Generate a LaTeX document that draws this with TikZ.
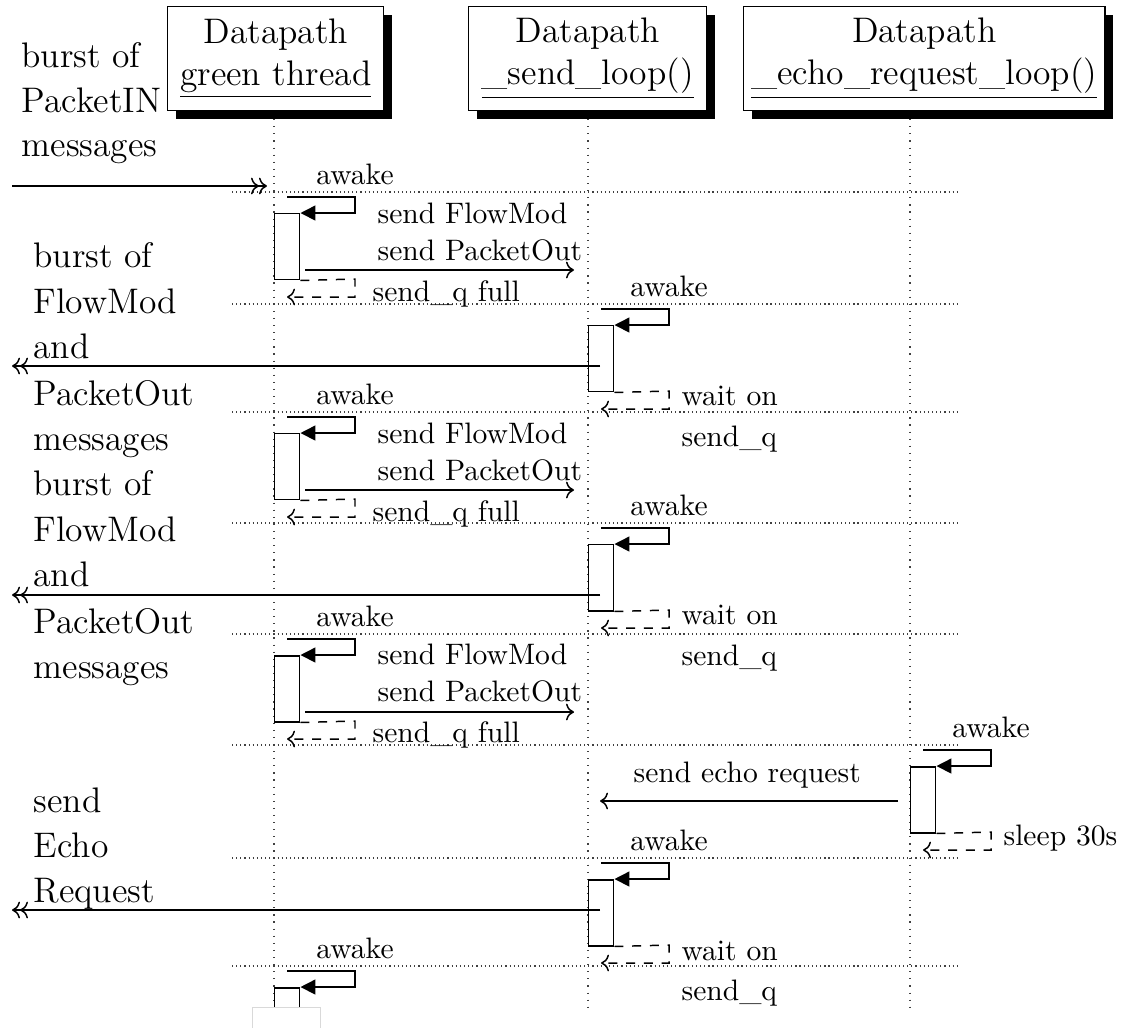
\documentclass[tikz,border=0pt]{standalone}
\usetikzlibrary{arrows.meta,shadows}
\newdimen\pxu
\pxu=0.338pt

\tikzset{
  lifeline/.style={dotted, line width=0.4pt, black!75},
  sepline/.style={densely dotted, line width=0.4pt, black!75},
  threadbox/.style={draw, line width=0.5pt, fill=white, align=center, font=\large,
    inner sep=0pt, anchor=north west, minimum height=104\pxu,
    drop shadow={fill=black, opacity=1, shadow xshift=8\pxu, shadow yshift=-8\pxu}},
  actbox/.style={draw, line width=0.5pt, fill=white, inner sep=0pt,
    minimum width=25\pxu, minimum height=66\pxu, anchor=north west},
  selfcall/.style={line width=0.5pt, -{Triangle[length=5pt,width=5pt]}},
  callmsg/.style={line width=0.5pt, ->},
  extmsg/.style={line width=0.5pt, ->>},
  retmsg/.style={line width=0.5pt, dashed, ->},
  msgtext/.style={font=\normalsize, inner sep=0pt, anchor=base west},
  sidetext/.style={font=\large, inner sep=0pt, anchor=base west},
}

% wake-up of a thread: activation box, self call and its label
% #1 name, #2 lifeline x, #3 separator y
\newcommand{\awakeblock}[3]{%
  \node[actbox] (#1) at (#2, #3+21) {};
  \node[msgtext, anchor=base] (#1-aw) at (#2+81, #3-8) {awake};
  \coordinate (#1-c1) at (#2+13, #3+5);
  \coordinate (#1-c2) at (#2+81, #3+5);
  \draw[selfcall] (#1-c1) -- (#1-c2) |- (#1.north east);
}
% dashed return of a thread going back to sleep
\newcommand{\sleepblock}[3]{%
  \coordinate (#1-r1) at (#2+81, #3+87);
  \coordinate (#1-r2) at (#2+13, #3+105);
  \draw[retmsg] (#1.south east) -- (#1-r1) |- (#1-r2);
}

\begin{document}
\begin{tikzpicture}[x=0.338pt, y=-0.338pt]
\useasboundingbox (0,0) rectangle (1126,1027);
\clip (0,0) rectangle (1126,1027);

% lifelines
\coordinate (gt-top) at (274,112);  \coordinate (gt-bot) at (274,1012);
\coordinate (sl-top) at (588,112);  \coordinate (sl-bot) at (588,1012);
\coordinate (el-top) at (910,112);  \coordinate (el-bot) at (910,1012);
\draw[lifeline] (gt-top) -- (gt-bot);
\draw[lifeline] (sl-top) -- (sl-bot);
\draw[lifeline] (el-top) -- (el-bot);

% separators between wake-ups
\foreach \yy in {192,304,412,523,634,745,858,966}
  \draw[sepline] (232,\yy) -- (958,\yy);

% thread headers
\node[threadbox, minimum width=216\pxu] (gt) at (167,6) {Datapath\\\underline{green thread}};
\node[threadbox, minimum width=238\pxu] (sl) at (468,6) {Datapath\\\underline{\_send\_loop()}};
\node[threadbox, minimum width=361\pxu] (el) at (743,6) {Datapath\\\underline{\_echo\_request\_loop()}};

% side notes
\node[sidetext] (n1a) at (21,67)  {burst of};
\node[sidetext] (n1b) at (21,112) {PacketIN};
\node[sidetext] (n1c) at (21,156) {messages};

\node[sidetext] (n2a) at (33,267) {burst of};
\node[sidetext] (n2b) at (33,313) {FlowMod};
\node[sidetext] (n2c) at (33,358) {and};
\node[sidetext] (n2d) at (33,405) {PacketOut};
\node[sidetext] (n2e) at (33,450) {messages};

\node[sidetext] (n3a) at (33,495) {burst of};
\node[sidetext] (n3b) at (33,541) {FlowMod};
\node[sidetext] (n3c) at (33,586) {and};
\node[sidetext] (n3d) at (33,633) {PacketOut};
\node[sidetext] (n3e) at (33,678) {messages};

\node[sidetext] (n4a) at (33,812) {send};
\node[sidetext] (n4b) at (33,857) {Echo};
\node[sidetext] (n4c) at (33,902) {Request};

% incoming PacketIN burst
\coordinate (in-src) at (12,186);
\coordinate (in-dst) at (267,186);
\draw[extmsg] (in-src) -- (in-dst);

% green thread, first wake-up
\awakeblock{g1}{274}{192}
\node[msgtext] (g1-m1) at (377,223) {send FlowMod};
\node[msgtext] (g1-m2) at (377,260) {send PacketOut};
\coordinate (g1-o) at (305,270); \coordinate (g1-d) at (574,270);
\draw[callmsg] (g1-o) -- (g1-d);
\sleepblock{g1}{274}{192}
\node[msgtext] (g1-q) at (372,301) {send\_q full};

% send loop, first wake-up
\awakeblock{s1}{588}{304}
\coordinate (s1-o) at (600,366); \coordinate (s1-d) at (12,366);
\draw[extmsg] (s1-o) -- (s1-d);
\sleepblock{s1}{588}{304}
\node[msgtext] (s1-w) at (681,405) {wait on};
\node[msgtext] (s1-q) at (681,446) {send\_q};

% green thread, second wake-up
\awakeblock{g2}{274}{412}
\node[msgtext] (g2-m1) at (377,443) {send FlowMod};
\node[msgtext] (g2-m2) at (377,480) {send PacketOut};
\coordinate (g2-o) at (305,490); \coordinate (g2-d) at (574,490);
\draw[callmsg] (g2-o) -- (g2-d);
\sleepblock{g2}{274}{412}
\node[msgtext] (g2-q) at (372,521) {send\_q full};

% send loop, second wake-up
\awakeblock{s2}{588}{523}
\coordinate (s2-o) at (600,595); \coordinate (s2-d) at (12,595);
\draw[extmsg] (s2-o) -- (s2-d);
\sleepblock{s2}{588}{523}
\node[msgtext] (s2-w) at (681,624) {wait on};
\node[msgtext] (s2-q) at (681,665) {send\_q};

% green thread, third wake-up
\awakeblock{g3}{274}{634}
\node[msgtext] (g3-m1) at (377,664) {send FlowMod};
\node[msgtext] (g3-m2) at (377,701) {send PacketOut};
\coordinate (g3-o) at (305,712); \coordinate (g3-d) at (574,712);
\draw[callmsg] (g3-o) -- (g3-d);
\sleepblock{g3}{274}{634}
\node[msgtext] (g3-q) at (372,742) {send\_q full};

% echo request loop
\awakeblock{e1}{910}{745}
\node[msgtext] (e1-m) at (633,782) {send echo request};
\coordinate (e1-o) at (898,801); \coordinate (e1-d) at (600,801);
\draw[callmsg] (e1-o) -- (e1-d);
\sleepblock{e1}{910}{745}
\node[msgtext] (e1-s) at (1003,845) {sleep 30s};

% send loop, third wake-up
\awakeblock{s3}{588}{858}
\coordinate (s3-o) at (600,910); \coordinate (s3-d) at (12,910);
\draw[extmsg] (s3-o) -- (s3-d);
\sleepblock{s3}{588}{858}
\node[msgtext] (s3-w) at (681,960) {wait on};
\node[msgtext] (s3-q) at (681,1000) {send\_q};

% green thread, fourth wake-up (cut at the page end)
\awakeblock{g4}{274}{966}
\node[draw=black!15, line width=0.4pt, fill=white, inner sep=0pt, anchor=north west,
  minimum width=68\pxu, minimum height=40\pxu] (cut) at (252,1007) {};
\end{tikzpicture}
\end{document}
